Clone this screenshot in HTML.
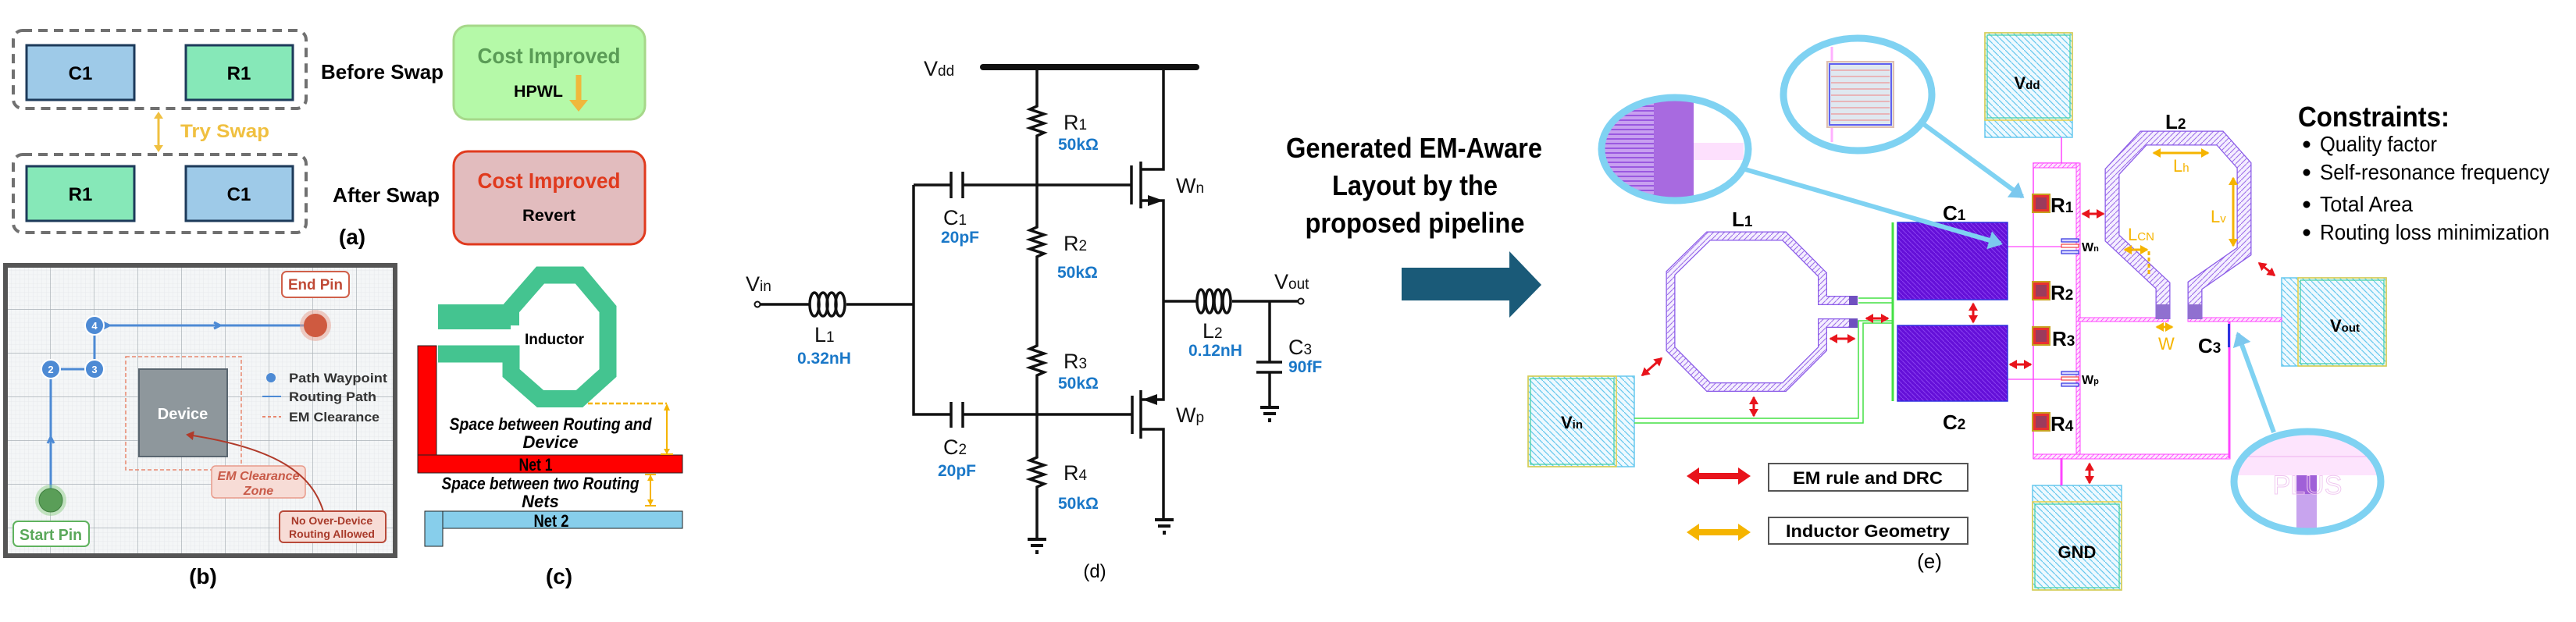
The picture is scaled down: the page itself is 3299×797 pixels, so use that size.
<!DOCTYPE html>
<html><head><meta charset="utf-8"><style>html,body{margin:0;padding:0;background:#fff}svg{display:block}text{font-family:"Liberation Sans",sans-serif}</style></head><body>
<svg width="3299" height="797" viewBox="0 0 3299 797" xmlns="http://www.w3.org/2000/svg">
<defs>
<pattern id="minor" x="9" y="5" width="5.6" height="5.6" patternUnits="userSpaceOnUse"><path d="M5.6 0V5.6M0 5.6H5.6" stroke="#e3e6e9" stroke-width="0.8" fill="none"/></pattern>
<pattern id="major" x="9" y="5" width="56" height="56" patternUnits="userSpaceOnUse"><path d="M56 0V56M0 56H56" stroke="#aab1b7" stroke-width="1.4" fill="none"/></pattern>
<pattern id="pad" width="8" height="8" patternUnits="userSpaceOnUse"><rect width="8" height="8" fill="#eef9ff"/><path d="M0 0L8 8" stroke="#66c8ee" stroke-width="1.2"/></pattern>
<pattern id="ind" width="7" height="7" patternUnits="userSpaceOnUse"><rect width="7" height="7" fill="#f4eeff"/><path d="M7 0L0 7" stroke="#9a6ae8" stroke-width="1"/></pattern>
<pattern id="cap" width="6" height="6" patternUnits="userSpaceOnUse"><rect width="6" height="6" fill="#6410d8"/><path d="M0 0L6 6" stroke="#8a40f0" stroke-width="1"/></pattern>
<pattern id="mag" width="6" height="6" patternUnits="userSpaceOnUse"><rect width="6" height="6" fill="#fde6fd"/><path d="M0 6L6 0" stroke="#ff44ff" stroke-width="0.8"/></pattern>
<marker id="rA" markerWidth="4" markerHeight="4" refX="3" refY="2" orient="auto-start-reverse" markerUnits="strokeWidth"><path d="M0 0L3.5 2L0 4z" fill="#e8141c"/></marker>
<marker id="yA" markerWidth="4" markerHeight="4" refX="3" refY="2" orient="auto-start-reverse" markerUnits="strokeWidth"><path d="M0 0L3.5 2L0 4z" fill="#f5b400"/></marker>
<marker id="bA" markerWidth="4" markerHeight="4" refX="2.5" refY="2" orient="auto" markerUnits="strokeWidth"><path d="M0 0L3 2L0 4z" fill="#7cc8ee"/></marker>
<marker id="tA" markerWidth="6" markerHeight="6" refX="4" refY="3" orient="auto" markerUnits="strokeWidth"><path d="M0 0L5 3L0 6z" fill="#b03a2a"/></marker>
</defs>

<!-- ===== (a) ===== -->
<rect x="17" y="39" width="375" height="100" rx="12" fill="none" stroke="#707070" stroke-width="4" stroke-dasharray="12 8"/>
<rect x="34" y="58" width="138" height="70" fill="#9ecae8" stroke="#1c3a5a" stroke-width="3"/>
<text x="103" y="102" font-size="24" font-weight="bold" text-anchor="middle">C1</text>
<rect x="238" y="58" width="137" height="70" fill="#86e8b8" stroke="#1c3a5a" stroke-width="3"/>
<text x="306" y="102" font-size="24" font-weight="bold" text-anchor="middle">R1</text>
<text x="411" y="101" font-size="26" font-weight="bold" textLength="157" lengthAdjust="spacingAndGlyphs">Before Swap</text>
<rect x="581" y="33" width="245" height="120" rx="18" fill="#b5f9a8" stroke="#a6d88a" stroke-width="3"/>
<text x="703" y="81" font-size="28" font-weight="bold" fill="#5a9c56" text-anchor="middle" textLength="183" lengthAdjust="spacingAndGlyphs">Cost Improved</text>
<text x="658" y="124" font-size="21" font-weight="bold" textLength="63" lengthAdjust="spacingAndGlyphs">HPWL</text>
<path d="M741 96V130" stroke="#f0b83c" stroke-width="7"/><path d="M729 128L741 143L753 128z" fill="#f0b83c"/>
<path d="M203 147V191" stroke="#f0c040" stroke-width="3"/><path d="M197 152L203 143L209 152zM197 186L203 195L209 186z" fill="#f0c040"/>
<text x="231" y="176" font-size="24" font-weight="bold" fill="#f0c040" textLength="114" lengthAdjust="spacingAndGlyphs">Try Swap</text>
<rect x="17" y="198" width="375" height="100" rx="12" fill="none" stroke="#707070" stroke-width="4" stroke-dasharray="12 8"/>
<rect x="34" y="213" width="138" height="70" fill="#86e8b8" stroke="#1c3a5a" stroke-width="3"/>
<text x="103" y="257" font-size="24" font-weight="bold" text-anchor="middle">R1</text>
<rect x="238" y="213" width="137" height="70" fill="#9ecae8" stroke="#1c3a5a" stroke-width="3"/>
<text x="306" y="257" font-size="24" font-weight="bold" text-anchor="middle">C1</text>
<text x="426" y="259" font-size="26" font-weight="bold" textLength="137" lengthAdjust="spacingAndGlyphs">After Swap</text>
<rect x="581" y="194" width="245" height="119" rx="18" fill="#e2bcbe" stroke="#e03a1e" stroke-width="3"/>
<text x="703" y="241" font-size="28" font-weight="bold" fill="#e03a1e" text-anchor="middle" textLength="183" lengthAdjust="spacingAndGlyphs">Cost Improved</text>
<text x="703" y="283" font-size="21" font-weight="bold" text-anchor="middle" textLength="68" lengthAdjust="spacingAndGlyphs">Revert</text>
<text x="451" y="313" font-size="28" text-anchor="middle" font-weight="bold">(a)</text>

<!-- ===== (b) ===== -->
<rect x="8" y="340" width="497" height="370" fill="#f4f6f7"/>
<rect x="8" y="340" width="497" height="370" fill="url(#minor)"/>
<rect x="8" y="340" width="497" height="370" fill="url(#major)"/>
<rect x="7" y="340" width="499" height="372" fill="none" stroke="#555" stroke-width="6"/>
<rect x="161" y="457" width="148" height="145" fill="none" stroke="#e8876e" stroke-width="1.5" stroke-dasharray="5 3"/>
<rect x="178" y="473" width="113" height="112" fill="#8e979c" stroke="#5a6670" stroke-width="2"/>
<text x="234" y="537" font-size="20" font-weight="bold" fill="#fff" text-anchor="middle">Device</text>
<g stroke="#4d8ad4" stroke-width="3" fill="none">
<path d="M65 641V473H121V417H404"/>
<path d="M65 560l-4 8M65 560l4 8M282 417l-8-4M282 417l-8 4M140 417l-8-4M140 417l-8 4"/>
</g>
<g fill="#4d8ad4" stroke="#fff" stroke-width="2"><circle cx="121" cy="417" r="12"/><circle cx="65" cy="473" r="12"/><circle cx="121" cy="473" r="12"/></g>
<g font-size="13" font-weight="bold" fill="#fff" text-anchor="middle"><text x="121" y="422">4</text><text x="65" y="478">2</text><text x="121" y="478">3</text></g>
<circle cx="404" cy="417" r="20" fill="#e8a090" opacity="0.5"/><circle cx="404" cy="417" r="15" fill="#cf5a40"/>
<circle cx="65" cy="641" r="20" fill="#8fcf8a" opacity="0.5"/><circle cx="65" cy="641" r="15" fill="#5a9e58" stroke="#3e7e3e" stroke-width="1"/>
<rect x="361" y="348" width="86" height="33" rx="6" fill="#fff" stroke="#d0604a" stroke-width="2"/>
<text x="404" y="371" font-size="19" font-weight="bold" fill="#c04a36" text-anchor="middle" textLength="70" lengthAdjust="spacingAndGlyphs">End Pin</text>
<rect x="17" y="668" width="97" height="32" rx="6" fill="#fff" stroke="#5fb25e" stroke-width="2"/>
<text x="65" y="692" font-size="20" font-weight="bold" fill="#5aa85a" text-anchor="middle" textLength="80" lengthAdjust="spacingAndGlyphs">Start Pin</text>
<circle cx="347" cy="484" r="6" fill="#4d8ad4"/>
<path d="M336 508H360" stroke="#4d8ad4" stroke-width="2"/>
<path d="M336 534H360" stroke="#e8876e" stroke-width="2" stroke-dasharray="4 3"/>
<g font-size="17" font-weight="bold" fill="#333"><text x="370" y="490" textLength="126" lengthAdjust="spacingAndGlyphs">Path Waypoint</text><text x="370" y="514" textLength="112" lengthAdjust="spacingAndGlyphs">Routing Path</text><text x="370" y="540" textLength="116" lengthAdjust="spacingAndGlyphs">EM Clearance</text></g>
<rect x="271" y="597" width="120" height="41" rx="5" fill="#f7dcd6" stroke="#e89a8a" stroke-width="1.5"/>
<g font-size="16" font-weight="bold" font-style="italic" fill="#c85a48" text-anchor="middle"><text x="331" y="615">EM Clearance</text><text x="331" y="634">Zone</text></g>
<path d="M414 655C400 610 360 575 240 557" stroke="#b03a2a" stroke-width="2" fill="none" marker-end="url(#tA)"/>
<rect x="358" y="655" width="136" height="40" rx="5" fill="#f7dcd6" stroke="#b84a3a" stroke-width="2"/>
<g font-size="14" font-weight="bold" fill="#a83a2a" text-anchor="middle"><text x="425" y="672">No Over-Device</text><text x="425" y="689">Routing Allowed</text></g>
<text x="260" y="748" font-size="28" font-weight="bold" text-anchor="middle">(b)</text>

<!-- ===== (c) ===== -->
<path d="M561 406H654V396L692 352.5H742L778.5 396V478L742 511H692L654.5 478V453.5H561" fill="none" stroke="#44c490" stroke-width="22"/>
<rect x="561" y="390" width="93" height="32" fill="#44c490"/>
<text x="710" y="441" font-size="19" font-weight="bold" text-anchor="middle" textLength="76" lengthAdjust="spacingAndGlyphs">Inductor</text>
<rect x="535" y="443" width="24" height="145" fill="#ff0000" stroke="#222" stroke-width="1"/>
<rect x="535" y="583" width="339" height="23" fill="#ff0000" stroke="#222" stroke-width="1"/>
<text x="686" y="603" font-size="22" font-weight="bold" text-anchor="middle" textLength="43" lengthAdjust="spacingAndGlyphs">Net 1</text>
<rect x="567" y="655" width="307" height="22" fill="#87ceeb" stroke="#222" stroke-width="1"/>
<rect x="544" y="655" width="23" height="45" fill="#87ceeb" stroke="#222" stroke-width="1"/>
<text x="706" y="675" font-size="22" font-weight="bold" text-anchor="middle" textLength="45" lengthAdjust="spacingAndGlyphs">Net 2</text>
<path d="M753 517H854" stroke="#f5b400" stroke-width="2.5" stroke-dasharray="6 3"/>
<path d="M854 520V582M846 582H862M833 608V648M826 608H840M826 648H840" stroke="#f5b400" stroke-width="2"/>
<path d="M850 526L854 517L858 526zM850 575L854 582L858 575zM829 616L833 608L837 616zM829 640L833 648L837 640z" fill="#f5b400"/>
<g font-size="22" font-style="italic" font-weight="bold" text-anchor="middle">
<text x="705" y="551" textLength="259" lengthAdjust="spacingAndGlyphs">Space between  Routing and</text>
<text x="705" y="574">Device</text>
<text x="692" y="627" textLength="253" lengthAdjust="spacingAndGlyphs">Space between two Routing</text>
<text x="692" y="650">Nets</text></g>
<text x="716" y="748" font-size="28" font-weight="bold" text-anchor="middle">(c)</text>

<!-- ===== (d) ===== -->
<g stroke="#111" stroke-width="3.5" fill="none">
<path d="M1259 86H1532" stroke-width="8" stroke-linecap="round"/>
<path d="M1328 86V136l-9 4l18 6l-18 6l18 6l-18 6l18 6l-9 4V291l-9 4l18 6l-18 6l18 6l-18 6l18 6l-9 4V443l-9 4l18 6l-18 6l18 6l-18 6l18 6l-9 4V586l-9 4l18 6l-18 6l18 6l-18 6l18 6l-9 4V690"/>
<path d="M1170 237H1218M1234 237H1449M1170 237V531H1218M1234 531H1450M1218 220V254M1233 220V254M1218 515V548M1233 515V548"/>
<path d="M1449 212V262M1461 207V267M1461 217H1490V86M1461 257H1490V512H1461M1450 507V556M1461 500V562M1461 550H1490V664"/>
<path d="M1490 386H1532M1578 386H1666M1626 386V464M1609 464H1642M1609 477H1642M1626 477V520"/>
<path d="M973 390H1037M1084 390H1170"/>
</g>
<path d="M1470 257L1490 250V264z" fill="#111" transform="rotate(180 1480 257)"/>
<path d="M1463 512L1482 505V519z" fill="#111"/>
<g stroke="#111" stroke-width="3.5" fill="none">
<ellipse cx="1043" cy="390" rx="6" ry="15"/><ellipse cx="1054" cy="390" rx="6" ry="15"/><ellipse cx="1065" cy="390" rx="6" ry="15"/><ellipse cx="1076" cy="390" rx="6" ry="15"/>
<ellipse cx="1538" cy="386" rx="5" ry="15"/><ellipse cx="1549" cy="386" rx="5" ry="15"/><ellipse cx="1560" cy="386" rx="5" ry="15"/><ellipse cx="1571" cy="386" rx="5" ry="15"/>
</g>
<circle cx="970" cy="390" r="3.5" fill="#fff" stroke="#111" stroke-width="2"/>
<circle cx="1666" cy="386" r="3.5" fill="#fff" stroke="#111" stroke-width="2"/>
<g fill="#111"><rect x="1316" y="689" width="24" height="4"/><rect x="1320" y="697" width="16" height="4"/><rect x="1326" y="705" width="4" height="5"/>
<rect x="1479" y="664" width="24" height="4"/><rect x="1483" y="672" width="16" height="4"/><rect x="1489" y="680" width="4" height="5"/>
<rect x="1614" y="520" width="24" height="4"/><rect x="1618" y="528" width="16" height="4"/><rect x="1624" y="536" width="4" height="5"/></g>
<g font-size="27" fill="#111">
<text x="1183" y="97">V<tspan font-size="19">dd</tspan></text>
<text x="1362" y="166">R<tspan font-size="19">1</tspan></text>
<text x="1362" y="321">R<tspan font-size="19">2</tspan></text>
<text x="1362" y="472">R<tspan font-size="19">3</tspan></text>
<text x="1362" y="615">R<tspan font-size="19">4</tspan></text>
<text x="1208" y="288">C<tspan font-size="19">1</tspan></text>
<text x="1208" y="582">C<tspan font-size="19">2</tspan></text>
<text x="1506" y="247">W<tspan font-size="19">n</tspan></text>
<text x="1506" y="541">W<tspan font-size="19">p</tspan></text>
<text x="955" y="373">V<tspan font-size="19">in</tspan></text>
<text x="1632" y="370">V<tspan font-size="19">out</tspan></text>
<text x="1043" y="438">L<tspan font-size="19">1</tspan></text>
<text x="1540" y="433">L<tspan font-size="19">2</tspan></text>
<text x="1650" y="454">C<tspan font-size="19">3</tspan></text>
</g>
<g font-size="21" font-weight="bold" fill="#1a78c8">
<text x="1355" y="192">50kΩ</text><text x="1354" y="356">50kΩ</text><text x="1355" y="498">50kΩ</text><text x="1355" y="652">50kΩ</text>
<text x="1205" y="311">20pF</text><text x="1201" y="610">20pF</text>
<text x="1021" y="466">0.32nH</text><text x="1522" y="456">0.12nH</text><text x="1650" y="477">90fF</text>
</g>
<text x="1402" y="740" font-size="24" text-anchor="middle">(d)</text>
<g font-size="36" font-weight="bold" text-anchor="middle">
<text x="1811" y="202" textLength="328" lengthAdjust="spacingAndGlyphs">Generated EM-Aware</text>
<text x="1812" y="250" textLength="212" lengthAdjust="spacingAndGlyphs">Layout by the</text>
<text x="1812" y="298" textLength="281" lengthAdjust="spacingAndGlyphs">proposed pipeline</text></g>
<path d="M1795 343H1933V322L1974 365L1933 407V385H1795Z" fill="#1a5a78"/>

<!-- ===== (e) ===== -->
<rect x="2542" y="42" width="112" height="134" fill="url(#pad)" stroke="#66c8ee" stroke-width="1.5"/>
<rect x="2542" y="42" width="112" height="112" fill="none" stroke="#e8d040" stroke-width="1.5"/>
<rect x="2545" y="45" width="106" height="106" fill="none" stroke="#3ed0a0" stroke-width="1.2"/>
<text x="2596" y="114" font-size="22" font-weight="bold" text-anchor="middle">V<tspan font-size="15">dd</tspan></text>
<rect x="1957" y="482" width="136" height="116" fill="url(#pad)" stroke="#66c8ee" stroke-width="1.5"/>
<rect x="1957" y="482" width="113" height="116" fill="none" stroke="#e8d040" stroke-width="1.5"/>
<rect x="1960" y="485" width="107" height="110" fill="none" stroke="#3ed0a0" stroke-width="1.2"/>
<text x="2013" y="549" font-size="22" font-weight="bold" text-anchor="middle">V<tspan font-size="15">in</tspan></text>
<rect x="2922" y="356" width="134" height="113" fill="url(#pad)" stroke="#66c8ee" stroke-width="1.5"/>
<rect x="2943" y="356" width="113" height="113" fill="none" stroke="#e8d040" stroke-width="1.5"/>
<rect x="2946" y="359" width="107" height="107" fill="none" stroke="#3ed0a0" stroke-width="1.2"/>
<text x="3003" y="425" font-size="22" font-weight="bold" text-anchor="middle">V<tspan font-size="15">out</tspan></text>
<rect x="2603" y="622" width="114" height="134" fill="url(#pad)" stroke="#66c8ee" stroke-width="1.5"/>
<rect x="2603" y="643" width="114" height="113" fill="none" stroke="#e8d040" stroke-width="1.5"/>
<rect x="2606" y="646" width="108" height="107" fill="none" stroke="#3ed0a0" stroke-width="1.2"/>
<text x="2660" y="715" font-size="22" font-weight="bold" text-anchor="middle">GND</text>
<path d="M2640 176V209" stroke="#ff44ff" stroke-width="1.5"/>
<rect x="2604" y="209" width="58" height="378" fill="none" stroke="#ff44ff" stroke-width="1.5"/>
<rect x="2604" y="209" width="58" height="6" fill="url(#mag)" stroke="#ff44ff" stroke-width="1"/>
<rect x="2659" y="209" width="5" height="378" fill="url(#mag)" stroke="#ff44ff" stroke-width="1"/>
<rect x="2604" y="582" width="252" height="6" fill="url(#mag)" stroke="#ff44ff" stroke-width="1"/>
<rect x="2662" y="407" width="115" height="5" fill="url(#mag)" stroke="#ff44ff" stroke-width="1"/>
<rect x="2802" y="407" width="120" height="5" fill="url(#mag)" stroke="#ff44ff" stroke-width="1"/>
<path d="M2855 412V587" stroke="#ff44ff" stroke-width="3"/>
<path d="M2640 587V622" stroke="#ff44ff" stroke-width="3"/>
<path d="M2571 316H2640M2571 486H2640" stroke="#ff44ff" stroke-width="1.2"/>
<rect x="2853" y="415" width="3" height="30" fill="#3030e0"/>
<g stroke="#3030e0" stroke-width="1.2" fill="#d8d8ff"><rect x="2640" y="306" width="22" height="4"/><rect x="2640" y="321" width="22" height="4"/><rect x="2640" y="476" width="22" height="4"/><rect x="2640" y="491" width="22" height="4"/></g>
<g stroke="#f04040" stroke-width="1.2" fill="#fff"><rect x="2640" y="313" width="22" height="4"/><rect x="2640" y="483" width="22" height="4"/></g>
<g font-size="16" font-weight="bold"><text x="2666" y="322">W<tspan font-size="11">n</tspan></text><text x="2666" y="492">W<tspan font-size="11">p</tspan></text></g>
<g><rect x="2603" y="249" width="22" height="23" fill="#e83030" stroke="#c8a020" stroke-width="2"/><rect x="2607" y="253" width="14" height="15" fill="#7a4070" opacity="0.7"/>
<rect x="2603" y="361" width="22" height="23" fill="#e83030" stroke="#c8a020" stroke-width="2"/><rect x="2607" y="365" width="14" height="15" fill="#7a4070" opacity="0.7"/>
<rect x="2603" y="419" width="22" height="23" fill="#e83030" stroke="#c8a020" stroke-width="2"/><rect x="2607" y="423" width="14" height="15" fill="#7a4070" opacity="0.7"/>
<rect x="2603" y="529" width="22" height="23" fill="#e83030" stroke="#c8a020" stroke-width="2"/><rect x="2607" y="533" width="14" height="15" fill="#7a4070" opacity="0.7"/></g>
<g font-size="26" font-weight="bold"><text x="2626" y="272">R<tspan font-size="19">1</tspan></text><text x="2626" y="384">R<tspan font-size="19">2</tspan></text><text x="2628" y="443">R<tspan font-size="19">3</tspan></text><text x="2626" y="552">R<tspan font-size="19">4</tspan></text></g>
<path d="M2424 285V514" stroke="#44e044" stroke-width="3"/>
<rect x="2430" y="285" width="141" height="99" fill="url(#cap)" stroke="#3030e0" stroke-width="1.5"/>
<rect x="2430" y="417" width="141" height="97" fill="url(#cap)" stroke="#3030e0" stroke-width="1.5"/>
<g font-size="26" font-weight="bold"><text x="2488" y="282">C<tspan font-size="19">1</tspan></text><text x="2488" y="550">C<tspan font-size="19">2</tspan></text><text x="2815" y="452">C<tspan font-size="19">3</tspan></text><text x="2218" y="290">L<tspan font-size="19">1</tspan></text><text x="2773" y="165">L<tspan font-size="19">2</tspan></text></g>
<g fill="none" stroke="#44e044" stroke-width="1.5"><path d="M2093 536H2380V411H2424M2093 542H2386V414H2424"/><path d="M2380 382H2424M2380 388H2424"/></g>
<path d="M2379 385H2334V352L2285 302.5H2188L2139.5 350V447L2188 496H2285L2334 447V414H2379" fill="none" stroke="#8a5ae8" stroke-width="12"/>
<path d="M2379 385H2334V352L2285 302.5H2188L2139.5 350V447L2188 496H2285L2334 447V414H2379" fill="none" stroke="url(#ind)" stroke-width="9.5"/>
<rect x="2368" y="379" width="11" height="12" fill="#7050c0"/><rect x="2368" y="408" width="11" height="12" fill="#7050c0"/>
<path d="M2770 409V366L2705 305V220L2745 177H2843L2874 212V322L2811 366V409" fill="none" stroke="#8a5ae8" stroke-width="19"/>
<path d="M2770 409V366L2705 305V220L2745 177H2843L2874 212V322L2811 366V409" fill="none" stroke="url(#ind)" stroke-width="16.5"/>
<rect x="2761" y="390" width="18" height="19" fill="#9070d0"/><rect x="2802" y="390" width="18" height="19" fill="#9070d0"/>
<g stroke="#f5b400" fill="none" stroke-width="3">
<path d="M2758 196H2828" marker-start="url(#yA)" marker-end="url(#yA)"/>
<path d="M2860 228V315" marker-start="url(#yA)" marker-end="url(#yA)"/>
<path d="M2721 320H2750" marker-start="url(#yA)" marker-end="url(#yA)"/>
<path d="M2752 322V352" stroke-dasharray="5 3"/>
<path d="M2762 419H2782" marker-start="url(#yA)" marker-end="url(#yA)"/>
</g>
<g fill="#f5b400" font-size="22"><text x="2783" y="220">L<tspan font-size="15">h</tspan></text><text x="2831" y="285">L<tspan font-size="15">v</tspan></text><text x="2725" y="308">L<tspan font-size="15">CN</tspan></text><text x="2764" y="448">W</text></g>
<g stroke="#e8141c" stroke-width="3" fill="none">
<path d="M2667 274H2694" marker-start="url(#rA)" marker-end="url(#rA)"/>
<path d="M2893 337L2913 353" marker-start="url(#rA)" marker-end="url(#rA)"/>
<path d="M2103 481L2128 459" marker-start="url(#rA)" marker-end="url(#rA)"/>
<path d="M2246 509V533" marker-start="url(#rA)" marker-end="url(#rA)"/>
<path d="M2390 408H2418" marker-start="url(#rA)" marker-end="url(#rA)"/>
<path d="M2344 434H2375" marker-start="url(#rA)" marker-end="url(#rA)"/>
<path d="M2527 389V413" marker-start="url(#rA)" marker-end="url(#rA)"/>
<path d="M2574 467H2601" marker-start="url(#rA)" marker-end="url(#rA)"/>
<path d="M2676 594V619" marker-start="url(#rA)" marker-end="url(#rA)"/>
</g>
<ellipse cx="2379" cy="121" rx="95" ry="72" fill="#fff"/>
<path d="M2346 60V182" stroke="#ffb0ff" stroke-width="3"/>
<rect x="2340" y="79" width="85" height="84" fill="#dfe8f0" stroke="#e0c0b0" stroke-width="2"/>
<rect x="2343" y="82" width="79" height="78" fill="none" stroke="#6060f0" stroke-width="2"/>
<g stroke="#f08080" stroke-width="1"><path d="M2345 90H2420M2345 98H2420M2345 106H2420M2345 114H2420M2345 122H2420M2345 130H2420M2345 138H2420M2345 146H2420M2345 154H2420"/></g>
<ellipse cx="2379" cy="121" rx="95" ry="72" fill="none" stroke="#7fd2f2" stroke-width="9"/>
<clipPath id="c2"><ellipse cx="2145" cy="191" rx="94" ry="66"/></clipPath>
<g clip-path="url(#c2)"><rect x="2040" y="120" width="78" height="150" fill="#c8a0f0"/>
<g stroke="#9a58e0" stroke-width="2"><path d="M2040 130H2118M2040 136H2118M2040 142H2118M2040 148H2118M2040 154H2118M2040 160H2118M2040 166H2118M2040 172H2118M2040 178H2118M2040 184H2118M2040 190H2118M2040 196H2118M2040 202H2118M2040 208H2118M2040 214H2118M2040 220H2118M2040 226H2118M2040 232H2118M2040 238H2118M2040 244H2118M2040 250H2118"/></g>
<rect x="2118" y="120" width="51" height="150" fill="#a86ae0"/><rect x="2169" y="183" width="64" height="22" fill="#fde0fd"/></g>
<ellipse cx="2145" cy="191" rx="94" ry="66" fill="none" stroke="#7fd2f2" stroke-width="9"/>
<clipPath id="c3"><ellipse cx="2955" cy="617" rx="94" ry="64"/></clipPath>
<g clip-path="url(#c3)"><rect x="2850" y="540" width="210" height="69" fill="#fde4fd"/><path d="M2870 585H3040" stroke="#f0b0f0"/>
<rect x="2941" y="609" width="26" height="24" fill="#a060d8"/><rect x="2941" y="633" width="26" height="50" fill="#c8a4ee"/>
<text x="2955" y="633" font-size="34" fill="none" stroke="#f0c8f0" text-anchor="middle">PLUS</text></g>
<ellipse cx="2955" cy="617" rx="94" ry="64" fill="none" stroke="#7fd2f2" stroke-width="9"/>
<g stroke="#7fd2f2" stroke-width="6" fill="none">
<path d="M2462 158L2590 252" marker-end="url(#bA)"/>
<path d="M2235 217L2562 312" marker-end="url(#bA)"/>
<path d="M2912 554L2866 428" marker-end="url(#bA)"/>
</g>
<path d="M2166 610H2236" stroke="#e8141c" stroke-width="8"/><path d="M2176 599L2160 610L2176 621zM2226 599L2242 610L2226 621z" fill="#e8141c"/>
<rect x="2265" y="594" width="255" height="35" fill="#fff" stroke="#555" stroke-width="2"/>
<text x="2392" y="620" font-size="22" font-weight="bold" text-anchor="middle" textLength="192" lengthAdjust="spacingAndGlyphs">EM rule and DRC</text>
<path d="M2166 682H2236" stroke="#f5b400" stroke-width="8"/><path d="M2176 671L2160 682L2176 693zM2226 671L2242 682L2226 693z" fill="#f5b400"/>
<rect x="2265" y="663" width="255" height="34" fill="#fff" stroke="#555" stroke-width="2"/>
<text x="2392" y="688" font-size="22" font-weight="bold" text-anchor="middle" textLength="210" lengthAdjust="spacingAndGlyphs">Inductor Geometry</text>
<text x="2471" y="728" font-size="26" text-anchor="middle">(e)</text>
<text x="2943" y="162" font-size="36" font-weight="bold" textLength="194" lengthAdjust="spacingAndGlyphs">Constraints:</text>
<g font-size="28"><circle cx="2954" cy="185" r="4.5"/><circle cx="2954" cy="221" r="4.5"/><circle cx="2954" cy="262" r="4.5"/><circle cx="2954" cy="298" r="4.5"/>
<text x="2971" y="194" textLength="150" lengthAdjust="spacingAndGlyphs">Quality factor</text>
<text x="2971" y="230" textLength="294" lengthAdjust="spacingAndGlyphs">Self-resonance frequency</text>
<text x="2971" y="271" textLength="119" lengthAdjust="spacingAndGlyphs">Total Area</text>
<text x="2971" y="307" textLength="294" lengthAdjust="spacingAndGlyphs">Routing loss minimization</text></g>
</svg>
</body></html>
